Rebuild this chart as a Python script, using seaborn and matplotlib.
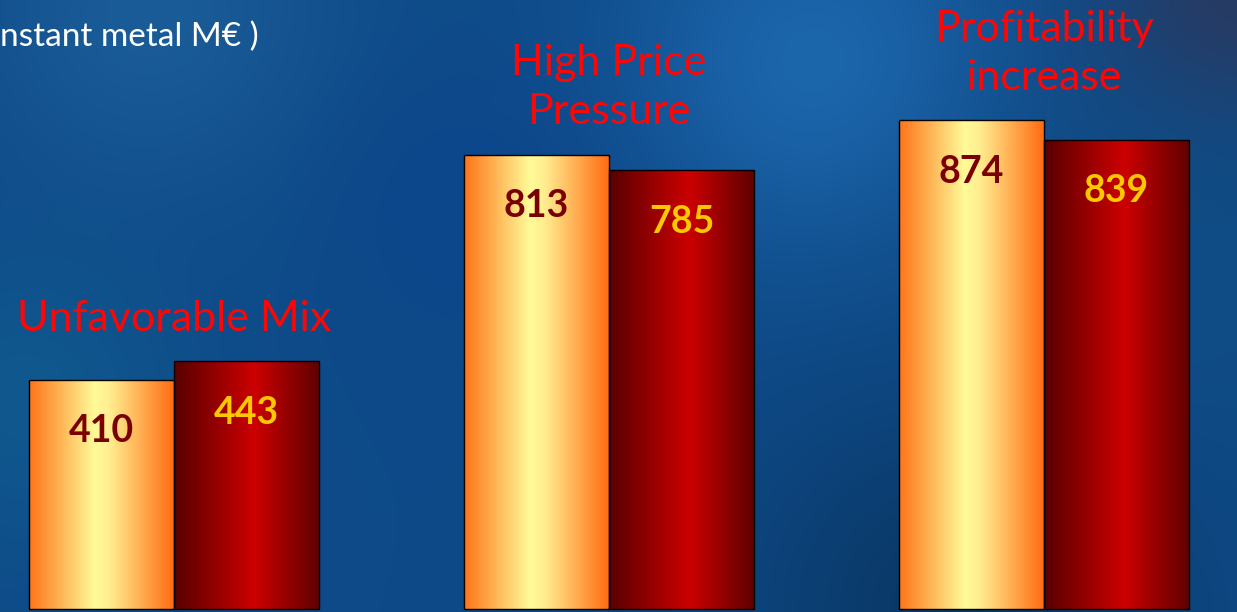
import numpy as np
import pandas as pd
import matplotlib
matplotlib.use('Agg')
import matplotlib.pyplot as plt
from matplotlib.colors import LinearSegmentedColormap
import seaborn as sns

# data
categories = ['Unfavorable Mix', 'High Price\nPressure', 'Profitability\nincrease']
series = ['A', 'B']
values_a = [410, 813, 874]
values_b = [443, 785, 839]
header = 'nstant metal M€ )'

df = pd.DataFrame({
    'category': categories * 2,
    'series': [series[0]] * 3 + [series[1]] * 3,
    'value': values_a + values_b,
})

sns.set_style('white')
plt.rcParams['font.family'] = ['Lato', 'DejaVu Sans']

W, H = 1237, 612
fig = plt.figure(figsize=(W / 100, H / 100), dpi=100)

# mottled blue background (smooth blobs)
bg_ax = fig.add_axes([0, 0, 1, 1], zorder=0)
bg_ax.axis('off')
u = np.linspace(0, 1, 400)[None, :]
v = np.linspace(0, 1, 200)[:, None]
img = np.ones((200, 400, 3)) * np.array([14, 74, 136]) / 255
blobs = [
    ((0.66, 0.10), 0.22, (28, 102, 172)),
    ((0.12, 0.02), 0.20, (26, 92, 152)),
    ((1.00, 0.00), 0.16, (40, 58, 98)),
    ((0.78, 1.00), 0.25, (10, 56, 102)),
    ((0.02, 0.65), 0.18, (16, 88, 142)),
    ((0.38, 0.35), 0.15, (12, 70, 140)),
    ((0.93, 0.45), 0.20, (16, 76, 132)),
]
for (cx, cy), r, col in blobs:
    w = np.exp(-(((u - cx) * 2.0) ** 2 + (v - cy) ** 2) / (2 * r ** 2))[..., None]
    img = img * (1 - w) + np.array(col)[None, None, :] / 255 * w
bg_ax.imshow(img, aspect='auto', extent=[0, 1, 0, 1], interpolation='bicubic')
bg_ax.set_xlim(0, 1)
bg_ax.set_ylim(0, 1)

ax = fig.add_axes([0, 0, 1, 1], zorder=1)
ax.patch.set_alpha(0)

sns.barplot(data=df, x='category', y='value', hue='series', order=categories,
            palette=['#ffb060', '#a00000'], width=0.667, dodge=True,
            edgecolor='black', linewidth=1.0, legend=False, ax=ax)

cmap_a = LinearSegmentedColormap.from_list('a', [(0, '#ff7418'), (0.45, '#fffa98'), (0.55, '#ffee90'), (1, '#ff6a10')])
cmap_b = LinearSegmentedColormap.from_list('b', [(0, '#580000'), (0.55, '#cc0000'), (1, '#5e0000')])
grad = np.linspace(0, 1, 256)[None, :]

label_colors = ['#7a0000', '#ffc800']
for cont, cmap, lc in zip(ax.containers, [cmap_a, cmap_b], label_colors):
    for patch in cont:
        x, w_, h = patch.get_x(), patch.get_width(), patch.get_height()
        im = ax.imshow(grad, cmap=cmap, aspect='auto', extent=[x, x + w_, 0, h], zorder=2)
        im.set_clip_path(patch)
        patch.set_zorder(3)
        patch.set_facecolor('none')
        ax.annotate(f'{int(h)}', (x + w_ / 2, h), xytext=(0, -37), textcoords='offset points',
                    ha='center', va='center', fontsize=27, fontweight='bold', color=lc, zorder=4)

tops = np.maximum(values_a, values_b)
for i, (cat, top) in enumerate(zip(categories, tops)):
    ax.annotate(cat, (i, top), xytext=(0, 17), textcoords='offset points',
                ha='center', va='bottom', fontsize=31, color='#ff0505',
                linespacing=1.35, zorder=4)

ax.text(0.0, 0.94, header, transform=ax.transAxes, ha='left', va='center',
        fontsize=24, color='white')

ax.set_xlim(-0.4, 2.444)
ax.set_ylim(-5.4, 1089.5)
ax.axis('off')

fig.savefig('out.png', dpi=100)
